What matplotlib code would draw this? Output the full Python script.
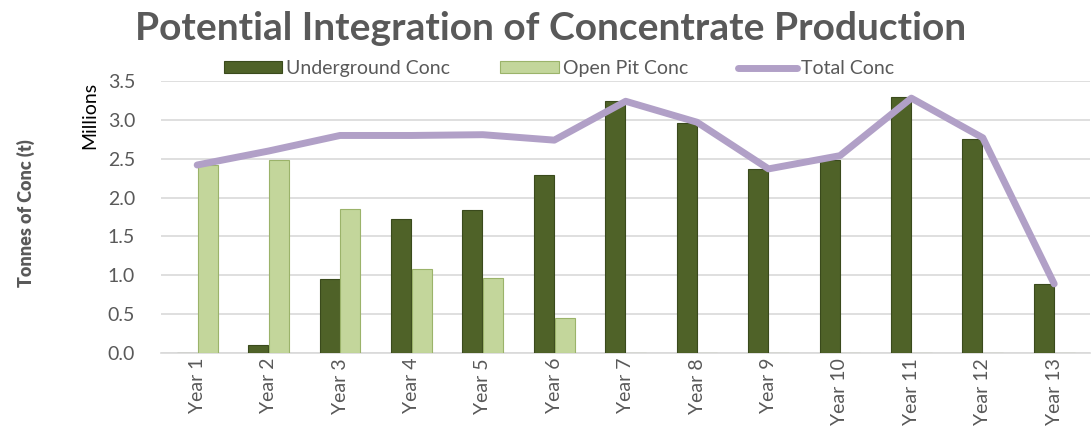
import matplotlib.pyplot as plt
import numpy as np

plt.rcParams['font.family'] = ['Lato', 'DejaVu Sans']

years = ['Year %d' % i for i in range(1, 14)]
underground = [0.0, 0.10, 0.95, 1.72, 1.84, 2.29, 3.24, 2.96, 2.37, 2.48, 3.29, 2.75, 0.89]
open_pit = [2.42, 2.48, 1.85, 1.08, 0.97, 0.45, 0.0, 0.0, 0.0, 0.0, 0.0, 0.0, 0.0]
total = [2.42, 2.60, 2.80, 2.80, 2.81, 2.74, 3.24, 2.97, 2.37, 2.54, 3.28, 2.77, 0.89]

gray = '#595959'
fig = plt.figure(figsize=(10.91, 4.43), dpi=100)
ax = fig.add_axes([0.148, 0.203, 0.851, 0.614])

x = np.arange(len(years))
w = 0.28
b1 = ax.bar(x - w / 2 - 0.005, underground, w, color='#4F6228', edgecolor='#3A4A1C', linewidth=0.8,
            label='Underground Conc', zorder=3)
b2 = ax.bar(x + w / 2 + 0.005, open_pit, w, color='#C3D69B', edgecolor='#9BB36A', linewidth=0.8,
            label='Open Pit Conc', zorder=3)
ln, = ax.plot(x, total, color='#B1A0C7', linewidth=5, label='Total Conc', zorder=4,
              solid_capstyle='round', solid_joinstyle='round')

ax.set_xlim(-0.5, len(years) - 0.5)
ax.set_ylim(0, 3.5)
ax.set_yticks(np.arange(0, 3.51, 0.5))
ax.set_yticklabels(['%.1f' % v for v in np.arange(0, 3.51, 0.5)])
ax.set_xticks(x)
ax.set_xticklabels(years, rotation=90)
ax.tick_params(axis='both', colors=gray, labelsize=14, length=0)
ax.tick_params(axis='y', pad=19)
ax.grid(axis='y', color='#D9D9D9', linewidth=1.2, zorder=0)
for s in ['top', 'right', 'left']:
    ax.spines[s].set_visible(False)
ax.spines['bottom'].set_color('#D9D9D9')
ax.spines['bottom'].set_linewidth(1.2)

fig.text(0.505, 0.935, 'Potential Integration of Concentrate Production', ha='center', va='center',
         fontsize=28, fontweight='bold', color=gray)
fig.text(0.024, 0.52, 'Tonnes of Conc (t)', rotation=90, ha='center', va='center',
         fontsize=13, fontweight='heavy', color=gray)
fig.text(0.082, 0.74, 'Millions', rotation=90, ha='center', va='center', fontsize=14, color='black')

leg = fig.legend([b1, b2, ln], ['Underground Conc', 'Open Pit Conc', 'Total Conc'],
                 loc='center', bbox_to_anchor=(0.512, 0.845), ncol=3, frameon=False, fontsize=14,
                 handlelength=3.0, handleheight=0.6, columnspacing=2.6, handletextpad=0.2,
                 borderpad=0)
for t in leg.get_texts():
    t.set_color(gray)

fig.savefig('out.png', dpi=100)
